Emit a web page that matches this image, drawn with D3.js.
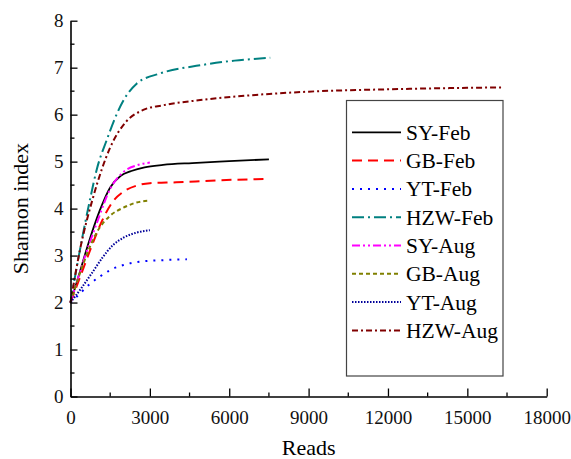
<!DOCTYPE html>
<html>
<head>
<meta charset="utf-8">
<script src="https://cdn.jsdelivr.net/npm/d3@7"></script>
<style>
  body { margin: 0; background: #fff; }
  text { font-family: "Liberation Serif", "Times New Roman", serif; }
</style>
</head>
<body>
<div id="chart"></div>
<script>
// rarefaction curves: [reads, shannon]
var syFeb = [[0,2],[300,2.55],[700,3.3],[1100,3.95],[1500,4.45],[1900,4.7],[2300,4.8],[2800,4.88],[3500,4.93],[4600,4.97],[6000,5.01],[7500,5.05]];
var gbFeb = [[0,2],[400,2.6],[800,3.2],[1200,3.75],[1600,4.15],[2000,4.36],[2500,4.49],[3000,4.54],[4000,4.56],[5500,4.6],[7300,4.63]];
var ytFeb = [[0,2],[300,2.16],[700,2.38],[1100,2.55],[1500,2.69],[2000,2.8],[2600,2.87],[3400,2.9],[4400,2.92]];
var hzwFeb = [[0,2],[300,2.95],[740,4.2],[1000,4.85],[1370,5.46],[1700,5.95],[2000,6.3],[2500,6.66],[3400,6.88],[4900,7.05],[6200,7.15],[7550,7.21]];
var syAug = [[0,2],[500,2.9],[1000,3.7],[1500,4.42],[2000,4.78],[2500,4.92],[3000,4.98]];
var gbAug = [[0,2],[500,2.85],[1000,3.5],[1500,3.85],[2000,4.02],[2500,4.13],[3000,4.17]];
var ytAug = [[0,2],[400,2.3],[800,2.62],[1200,2.95],[1600,3.22],[2000,3.38],[2500,3.49],[3000,3.54]];
var hzwAug = [[0,2],[350,3.1],[860,4.25],[1500,5.3],[2100,5.85],[2750,6.1],[3500,6.2],[4900,6.31],[7000,6.42],[9000,6.49],[12000,6.54],[16300,6.58]];

var seriesNames = ['SY-Feb','GB-Feb','YT-Feb','HZW-Feb','SY-Aug','GB-Aug','YT-Aug','HZW-Aug'];
var seriesData = [syFeb, gbFeb, ytFeb, hzwFeb, syAug, gbAug, ytAug, hzwAug];
var seriesColors = ['#000000','#ff0000','#0000ff','#008080','#ff00ff','#808000','#000099','#800000'];
var seriesDash = [null,'10,6','2,6','12,4,2,4','8,3,2,3,2,3','4,3','1.5,1.5','6,3,2,3'];

var xTicks = [0,3000,6000,9000,12000,15000,18000];
var yTicks = [0,1,2,3,4,5,6,7,8];

var width = 571, height = 459,
  margin = { top: 20.7, right: 24.3, bottom: 62.5, left: 70.5 };

var x = d3.scaleLinear().domain([0, 18000]).range([margin.left, width - margin.right]);
var y = d3.scaleLinear().domain([0, 8]).range([height - margin.bottom, margin.top]);

var svg = d3.select('#chart').append('svg')
  .attr('width', width)
  .attr('height', height);

var line = d3.line()
  .x(function (d) { return x(d[0]); })
  .y(function (d) { return y(d[1]); })
  .curve(d3.curveMonotoneX);

seriesData.forEach(function (s, i) {
  svg.append('path')
    .datum(s)
    .attr('d', line)
    .attr('fill', 'none')
    .attr('stroke', seriesColors[i])
    .attr('stroke-width', i === 0 ? 1.8 : 2)
    .attr('stroke-dasharray', seriesDash[i]);
});

// axes (ticks point inward)
var xAxis = svg.append('g')
  .attr('transform', 'translate(0,' + y(0) + ')')
  .call(d3.axisBottom(x).tickValues(xTicks).tickSizeInner(-8).tickSizeOuter(0).tickPadding(14).tickFormat(d3.format('d')));
var yAxis = svg.append('g')
  .attr('transform', 'translate(' + x(0) + ',0)')
  .call(d3.axisLeft(y).tickValues(yTicks).tickSizeInner(-7).tickSizeOuter(0).tickPadding(7).tickFormat(d3.format('d')));

// minor ticks
svg.append('g').selectAll('line')
  .data(d3.range(1500, 18000, 3000))
  .enter().append('line')
  .attr('x1', function (d) { return x(d); }).attr('x2', function (d) { return x(d); })
  .attr('y1', y(0)).attr('y2', y(0) - 4)
  .attr('stroke', '#000').attr('stroke-width', 1.3);
svg.append('g').selectAll('line')
  .data(d3.range(0.5, 8, 1))
  .enter().append('line')
  .attr('y1', function (d) { return y(d); }).attr('y2', function (d) { return y(d); })
  .attr('x1', x(0)).attr('x2', x(0) + 4)
  .attr('stroke', '#000').attr('stroke-width', 1.3);

[xAxis, yAxis].forEach(function (a) {
  a.select('.domain').attr('stroke', '#000').attr('stroke-width', 1.6);
  a.selectAll('.tick line').attr('stroke', '#000').attr('stroke-width', 1.3);
  a.selectAll('.tick text').attr('font-size', 19).attr('fill', '#111')
    .style('font-family', '"Liberation Serif", serif');
});

svg.append('text')
  .attr('x', x(9000)).attr('y', 455)
  .attr('text-anchor', 'middle')
  .attr('font-size', 22)
  .text('Reads');

svg.append('text')
  .attr('transform', 'translate(28,' + y(4) + ') rotate(-90)')
  .attr('text-anchor', 'middle')
  .attr('font-size', 22)
  .text('Shannon index');

// legend
var legend = svg.append('g');
legend.append('rect')
  .attr('x', 346.5).attr('y', 100.5)
  .attr('width', 156.5).attr('height', 275.5)
  .attr('fill', '#fff')
  .attr('stroke', '#444').attr('stroke-width', 1.2);

seriesNames.forEach(function (name, i) {
  var ly = 132.3 + i * 28.3;
  legend.append('line')
    .attr('x1', 352).attr('x2', 401)
    .attr('y1', ly).attr('y2', ly)
    .attr('stroke', seriesColors[i])
    .attr('stroke-width', i === 0 ? 1.8 : 2)
    .attr('stroke-dasharray', seriesDash[i]);
  legend.append('text')
    .attr('x', 406).attr('y', ly + 7.5)
    .attr('font-size', 21.5)
    .text(name);
});
</script>
</body>
</html>
